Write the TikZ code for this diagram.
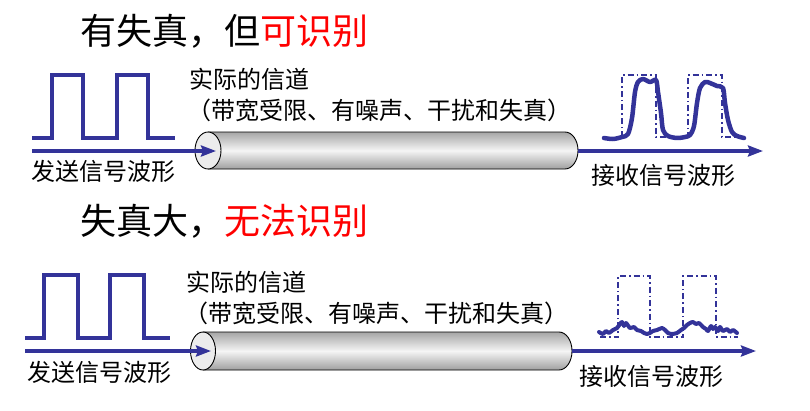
\documentclass[tikz,border=0pt]{standalone}
\usepackage{fontspec}
\newfontfamily\cjk{Noto Sans CJK SC}
\usetikzlibrary{arrows.meta}
\definecolor{sigblue}{HTML}{333399}
\definecolor{titlered}{HTML}{FF0000}
\tikzset{
  wave/.style={draw=sigblue, line width=3.5pt, line join=miter},
  sigarrow/.style={draw=sigblue, line width=3.2pt, -{Stealth[length=15pt,width=11pt,inset=2pt]}},
  ideal/.style={draw=sigblue, line width=1.6pt, dash pattern=on 6pt off 3pt on 1.5pt off 3pt},
  recv/.style={draw=sigblue, line width=4.5pt, line join=round, line cap=round},
  title/.style={font=\cjk\fontsize{36}{40}\selectfont, inner sep=0pt, anchor=west},
  lbl/.style={font=\cjk\fontsize{24}{28}\selectfont, inner sep=0pt, anchor=west},
  chan/.style={font=\cjk\fontsize{24}{28}\selectfont, inner sep=0pt, anchor=west},
  tube/.style={top color=gray!70, bottom color=gray!75, middle color=gray!8},
  tubeend/.style={draw=black, line width=0.9pt, fill=gray!15},
}
\begin{document}
\begin{tikzpicture}[x=1pt,y=-1pt]
\useasboundingbox[fill=white] (0,0) rectangle (810,410);

% ================= top section =================
\node[title] (t1) at (80,31) {有失真，但\textcolor{titlered}{可识别}};

% sent square wave
\draw[wave] (32,138) -- (52,138) -- (52,75) -- (83,75) -- (83,138) -- (117,138) -- (117,75) -- (148,75) -- (148,138) -- (175,138);
\node[lbl] (s1lbl) at (31,171) {发送信号波形};

% channel text
\node[chan] (ch1a) at (189,79) {实际的信道};
\node[chan] (ch1b) at (187,110) {（带宽受限、有噪声、干扰和失真）};

% cylinder
\shade[tube] (208,132) -- (565,132) arc[start angle=-90,end angle=90,x radius=13,y radius=18.5] -- (208,169) -- cycle;
\draw[line width=0.9pt] (208,132) -- (565,132) arc[start angle=-90,end angle=90,x radius=13,y radius=18.5] -- (208,169);
\draw[tubeend] (208,150.5) ellipse[x radius=13, y radius=18.5];

\coordinate (a1s) at (32,151);
\coordinate (a1e) at (216,151);
\coordinate (b1s) at (578,151);
\coordinate (b1e) at (763,151);
\draw[sigarrow] (a1s) -- (a1e);
\draw[sigarrow] (b1s) -- (b1e);

% received (ideal outline + distorted)
\draw[ideal] (622,137) -- (622,75) -- (656,75) -- (656,137) -- (688,137) -- (688,75) -- (722,75) -- (722,137) -- (743,137);
\draw[recv] plot[smooth, tension=0.5] coordinates {
 (604,138) (613,139) (622,137) (628,134) (632,118) (635,92) (638,82) (643,79) (650,82) (656,80)
 (658,92) (661,113) (663,130) (668,136) (677,138) (685,137) (690,135) (694,126) (697,103)
 (700,88) (705,82) (710,83) (717,86) (723,88) (725,103) (728,120) (732,132) (737,136) (744,138)};
\node[lbl] (r1lbl) at (591,175) {接收信号波形};

% ================= bottom section =================
\node[title] (t2) at (80,221) {失真大，\textcolor{titlered}{无法识别}};

\draw[wave] (25,338) -- (44,338) -- (44,275) -- (78,275) -- (78,338) -- (110,338) -- (110,275) -- (144,275) -- (144,338) -- (170,338);
\node[lbl] (s2lbl) at (27,372) {发送信号波形};

\node[chan] (ch2a) at (186,282) {实际的信道};
\node[chan] (ch2b) at (184,313) {（带宽受限、有噪声、干扰和失真）};

\shade[tube] (203,332) -- (559,332) arc[start angle=-90,end angle=90,x radius=13,y radius=19] -- (203,370) -- cycle;
\draw[line width=0.9pt] (203,332) -- (559,332) arc[start angle=-90,end angle=90,x radius=13,y radius=19] -- (203,370);
\draw[tubeend] (203,351) ellipse[x radius=12.5, y radius=19];

\coordinate (a2s) at (25,351);
\coordinate (a2e) at (211,351);
\coordinate (b2s) at (572,351);
\coordinate (b2e) at (756,351);
\draw[sigarrow] (a2s) -- (a2e);
\draw[sigarrow] (b2s) -- (b2e);

\draw[ideal] (600,337) -- (618,337) -- (618,276) -- (650,276) -- (650,337) -- (683,337) -- (683,276) -- (716,276) -- (716,337) -- (738,337);
\draw[recv, line width=4pt] plot[smooth, tension=0.4] coordinates {
 (599,332) (603,334) (606,331) (609,333) (613,330) (617,328) (620,324) (622,322) (624,326) (626,323)
 (630,328) (634,327) (637,330) (641,331) (644,333) (647,334) (650,333) (653,331) (657,330)
 (662,328) (665,330) (668,333) (672,334) (677,333) (681,330) (684,328) (687,325) (690,323)
 (693,322) (696,324) (699,323) (703,327) (706,329) (708,331) (711,326) (713,329) (715,327)
 (718,331) (720,327) (723,331) (727,329) (730,332) (733,330) (737,333)};
\node[lbl] (r2lbl) at (579,376) {接收信号波形};
\end{tikzpicture}
\end{document}
